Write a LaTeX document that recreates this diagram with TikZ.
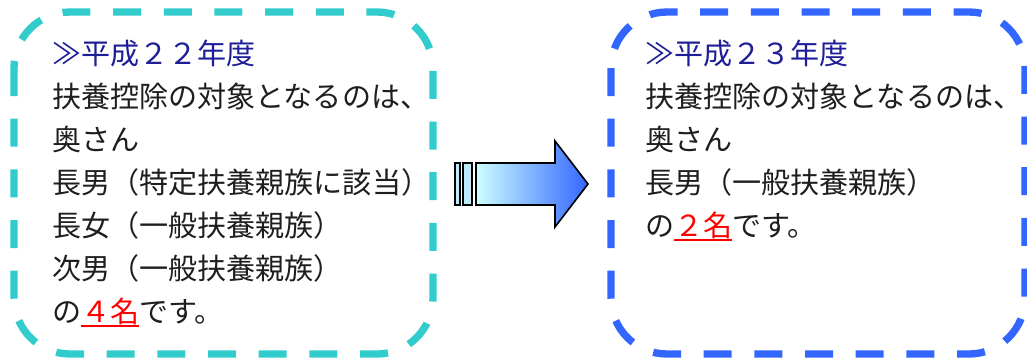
\documentclass[tikz,border=0pt]{standalone}
\usepackage{fontspec}
\setmainfont{Noto Sans CJK JP}
\definecolor{boxteal}{RGB}{51,204,204}
\definecolor{boxblue}{RGB}{51,102,255}
\definecolor{headnavy}{RGB}{30,30,150}
\definecolor{txtgray}{RGB}{30,30,30}
\newcommand{\redmark}[1]{\textcolor{red}{\setbox0\hbox{#1}\rlap{\rule[-3.5pt]{\wd0}{1.5pt}}\box0}}
\begin{document}
\begin{tikzpicture}[x=0.75pt,y=-0.75pt,
  frame/.style={line width=5.5pt,dash pattern=on 21pt off 17pt,rounded corners=42pt},
  txt/.style={anchor=base west,inner sep=0pt,font=\fontsize{21.8}{26}\selectfont,text=txtgray},
  head/.style={txt,text=headnavy}]
\useasboundingbox (0,0) rectangle (1027,358);
% boxes
\draw[frame,boxteal] (14,12) rectangle (433,354);
\draw[frame,boxblue] (611,12) rectangle (1025,354);
% left text
\node[head] (l1) at (52,64) {≫平成２２年度};
\node[txt] (l2) at (52,107) {扶養控除の対象となるのは、};
\node[txt] (l3) at (52,150) {奥さん};
\node[txt] (l4) at (52,193) {長男（特定扶養親族に該当）};
\node[txt] (l5) at (52,236) {長女（一般扶養親族）};
\node[txt] (l6) at (52,279) {次男（一般扶養親族）};
\node[txt] (l7) at (52,322) {の\redmark{４名}です。};
% right text
\node[head] (r1) at (645,64) {≫平成２３年度};
\node[txt] (r2) at (645,107) {扶養控除の対象となるのは、};
\node[txt] (r3) at (645,150) {奥さん};
\node[txt] (r4) at (645,193) {長男（一般扶養親族）};
\node[txt] (r5) at (645,236) {の\redmark{２名}です。};
% arrow
\begin{scope}[line width=1.2pt,draw=black]
\draw[fill=cyan!25] (455,163) rectangle (460,205);
\draw[fill=cyan!25] (463,163) rectangle (472,205);
\draw[left color=cyan!20,right color=boxblue,line join=miter]
  (476,163) -- (555,163) -- (555,141) -- (588,184) -- (555,227) -- (555,205) -- (476,205) -- cycle;
\end{scope}
\end{tikzpicture}
\end{document}
